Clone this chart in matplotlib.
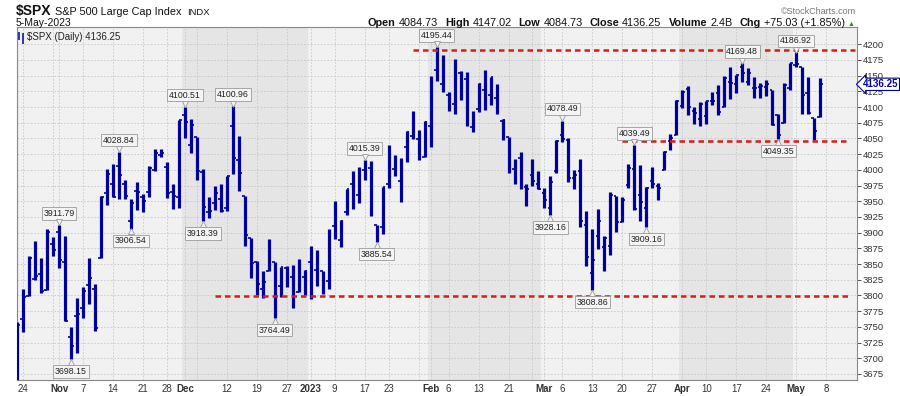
import numpy as np
import pandas as pd
import matplotlib
matplotlib.use("Agg")
import matplotlib.pyplot as plt
from matplotlib.transforms import offset_copy, blended_transform_factory

plt.rcParams['font.family'] = ['Liberation Sans', 'DejaVu Sans']

# daily S&P 500 bars, 21-Oct-2022 .. 5-May-2023
holidays = ['2022-11-24', '2022-12-26', '2023-01-02', '2023-01-16', '2023-02-20', '2023-04-07']
dates = [d for d in pd.bdate_range('2022-10-21', '2023-05-05') if d.strftime('%Y-%m-%d') not in holidays]

opens = [3657.10, 3762.01, 3799.44, 3825.97, 3834.69, 3808.26, 3881.85,
         3901.79, 3852.90, 3733.25, 3766.98, 3780.71, 3817.02, 3810.94, 3859.89, 3963.72, 3977.97, 4006.41,
         3976.82, 3919.26, 3966.39, 3956.23, 3965.51, 4000.30, 4023.34, 4005.36, 3964.19, 3957.18,
         4087.14, 4040.17, 4052.02, 3996.63, 3933.28, 3947.79, 3954.17, 3939.29, 4069.38, 4015.54, 3958.37,
         3890.91, 3853.79, 3810.47, 3839.49, 3853.26, 3815.11, 3843.34, 3829.56, 3805.45, 3829.06,
         3853.29, 3840.36, 3839.74, 3823.37, 3910.82, 3888.57, 3932.35, 3977.57, 3960.60, 3999.28, 4002.25,
         3911.84, 3909.04, 3978.14, 4001.74, 3982.71, 4036.08, 4053.72, 4049.27, 4020.85,
         4070.07, 4158.68, 4136.69, 4119.57, 4105.35, 4153.47, 4144.25, 4068.92, 4096.62, 4126.70, 4119.50,
         4114.75, 4077.39, 4052.35, 4001.83, 4018.60, 3973.24, 3992.36, 3977.19,
         3963.34, 3938.68, 3998.02, 4055.15, 4048.26, 3987.55, 3998.66, 3912.77, 3835.12, 3894.01, 3876.74,
         3878.93, 3958.69, 3917.47, 3975.89, 4002.04, 3959.21, 3939.21, 3982.93, 3974.13, 3999.53, 4046.74,
         4056.18,
         4102.20, 4128.03, 4094.50, 4081.15, 4085.20, 4110.29, 4121.72, 4100.04, 4140.11, 4137.17, 4164.26,
         4139.33, 4130.48, 4132.14, 4132.07, 4126.43, 4087.78, 4075.29, 4129.63,
         4166.79, 4164.10, 4122.25, 4082.61, 4084.73]
highs = [3757.89, 3810.74, 3862.85, 3886.15, 3859.95, 3905.42, 3893.73,
         3911.79, 3894.44, 3750.59, 3796.34, 3813.95, 3859.40, 3818.20, 3958.33, 4001.48, 4008.97, 4028.84,
         3983.09, 3954.33, 3979.89, 3962.00, 4005.88, 4033.78, 4034.02, 4012.27, 3976.77, 4080.11,
         4100.51, 4080.48, 4052.45, 4001.51, 3957.57, 3974.19, 3977.02, 3990.71, 4100.96, 4053.76, 3958.37,
         3890.91, 3854.86, 3838.24, 3889.82, 3853.26, 3845.80, 3846.65, 3848.32, 3858.19, 3839.85,
         3878.46, 3873.16, 3839.74, 3906.19, 3950.57, 3919.83, 3970.07, 3997.76, 4003.95, 4015.39, 4014.16,
         3911.84, 3972.96, 4039.31, 4023.92, 4019.55, 4061.57, 4094.21, 4063.85, 4077.16,
         4148.95, 4195.44, 4182.36, 4124.63, 4176.54, 4156.85, 4156.23, 4094.36, 4138.90, 4159.77, 4148.11,
         4136.54, 4081.51, 4052.35, 4017.37, 4028.30, 3978.25, 4018.05, 3997.50,
         3971.73, 3990.84, 4048.29, 4078.49, 4050.00, 4000.41, 4017.81, 3934.05, 3905.05, 3937.29, 3894.26,
         3964.46, 3958.91, 3956.62, 4009.08, 4039.49, 4007.66, 3972.74, 4003.83, 3979.20, 4030.59, 4057.85,
         4110.75,
         4127.66, 4133.13, 4099.69, 4107.32, 4109.50, 4124.26, 4134.37, 4150.26, 4163.19, 4151.72, 4169.48,
         4162.57, 4148.57, 4138.02, 4142.41, 4126.43, 4089.67, 4138.24, 4170.06,
         4186.92, 4164.10, 4148.30, 4082.61, 4147.02]
lows = [3647.42, 3741.65, 3799.44, 3824.07, 3803.79, 3808.26, 3863.18,
        3843.80, 3758.68, 3698.15, 3708.84, 3764.70, 3786.28, 3744.22, 3859.89, 3944.82, 3956.40, 3953.17,
        3954.34, 3906.54, 3935.98, 3933.34, 3956.88, 3998.66, 4020.76, 3955.77, 3937.65, 3938.58,
        4050.87, 4026.63, 3984.49, 3918.39, 3922.68, 3935.83, 3933.04, 3935.30, 3993.03, 3965.65, 3879.45,
        3827.91, 3800.04, 3795.62, 3839.49, 3764.49, 3797.01, 3813.22, 3780.78, 3805.45, 3800.34,
        3794.33, 3815.77, 3802.42, 3809.56, 3890.42, 3877.29, 3928.54, 3937.56, 3947.67, 3984.57, 3926.59,
        3885.54, 3897.86, 3971.64, 3989.79, 3949.06, 4013.29, 4048.70, 4015.55, 4020.44,
        4037.20, 4141.88, 4123.36, 4093.38, 4088.39, 4111.67, 4069.67, 4060.79, 4092.67, 4095.01, 4103.98,
        4089.49, 4047.95, 3995.19, 3976.90, 3969.19, 3943.08, 3973.55, 3968.98,
        3939.05, 3928.16, 3995.17, 4044.61, 3980.31, 3969.76, 3908.70, 3846.32, 3808.86, 3873.63, 3838.24,
        3864.11, 3901.27, 3916.89, 3971.19, 3936.17, 3919.05, 3909.16, 3970.47, 3951.53, 3999.53, 4032.10,
        4056.18,
        4098.79, 4086.87, 4072.56, 4069.84, 4072.55, 4102.61, 4086.94, 4099.40, 4113.20, 4123.18, 4140.36,
        4134.49, 4114.57, 4113.86, 4117.77, 4071.38, 4049.35, 4075.29, 4127.18,
        4164.12, 4089.72, 4088.86, 4048.28, 4084.73]
closes = [3752.75, 3797.34, 3859.11, 3830.60, 3807.30, 3901.06, 3871.98,
          3856.10, 3759.69, 3719.89, 3770.55, 3806.80, 3828.11, 3748.57, 3956.37, 3992.93, 3957.25, 3991.73,
          3958.79, 3946.56, 3965.34, 3949.94, 4003.58, 4027.26, 4026.12, 3963.94, 3957.63, 4080.11,
          4076.57, 4071.70, 3998.84, 3941.26, 3933.92, 3963.51, 3934.38, 3990.56, 4019.65, 3995.32, 3895.75,
          3852.36, 3817.66, 3821.62, 3878.44, 3822.39, 3844.82, 3829.25, 3783.22, 3849.28, 3839.50,
          3824.14, 3852.97, 3808.10, 3895.08, 3892.09, 3919.25, 3969.61, 3983.17, 3999.09, 3990.97, 3928.86,
          3898.85, 3972.61, 4019.81, 4016.95, 4016.22, 4060.43, 4070.56, 4017.77, 4076.60,
          4119.21, 4179.76, 4136.48, 4111.08, 4164.00, 4117.86, 4081.50, 4090.46, 4137.29, 4136.13, 4147.60,
          4090.41, 4079.09, 3997.34, 3991.05, 4012.32, 3970.04, 3982.24, 3970.15,
          3951.39, 3981.35, 4045.64, 4048.42, 3986.37, 3992.01, 3918.32, 3861.59, 3855.76, 3919.29, 3891.93,
          3960.28, 3916.64, 3951.57, 4002.87, 3936.97, 3948.72, 3970.99, 3977.53, 3971.27, 4027.81, 4050.83,
          4109.31,
          4124.51, 4100.60, 4090.38, 4105.02, 4109.11, 4108.94, 4091.95, 4146.22, 4137.64, 4151.32, 4154.87,
          4154.52, 4129.79, 4133.52, 4137.04, 4071.63, 4055.99, 4135.35, 4169.48,
          4167.87, 4119.58, 4090.75, 4061.22, 4136.25]

# labelled highs / lows
note_dates = ['2022-11-01', '2022-11-03', '2022-11-15', '2022-11-17', '2022-12-01', '2022-12-06',
              '2022-12-13', '2022-12-22', '2023-01-17', '2023-01-19', '2023-02-02', '2023-03-02',
              '2023-03-06', '2023-03-13', '2023-03-22', '2023-03-24', '2023-04-18', '2023-04-26', '2023-05-01']
note_kind = ['H', 'L', 'H', 'L', 'H', 'L', 'H', 'L', 'H', 'L', 'H', 'L', 'H', 'L', 'H', 'L', 'H', 'L', 'H']

# support / resistance lines: (level, from date, to index)
lvl_values = [4191.0, 4046.5, 3799.5]
lvl_start = ['2023-01-27', '2023-03-20', '2022-12-08']
lvl_end = [139.8, 138.7, 138.7]

tick_dates = ['2022-10-24', '2022-11-01', '2022-11-07', '2022-11-14', '2022-11-21', '2022-11-28',
              '2022-12-01', '2022-12-12', '2022-12-19', '2022-12-27', '2023-01-03', '2023-01-09',
              '2023-01-17', '2023-01-23', '2023-02-01', '2023-02-06', '2023-02-13', '2023-02-21',
              '2023-03-01', '2023-03-06', '2023-03-13', '2023-03-20', '2023-03-27', '2023-04-03',
              '2023-04-10', '2023-04-17', '2023-04-24', '2023-05-01', '2023-05-08']
tick_labels = ['24', 'Nov', '7', '14', '21', '28', 'Dec', '12', '19', '27', '2023', '9', '17', '23',
               'Feb', '6', '13', '21', 'Mar', '6', '13', '20', '27', 'Apr', '10', '17', '24', 'May', '8']
extra_grid = ['2022-10-31', '2022-12-05', '2023-01-30', '2023-02-27']
dark_months = [('2022-12-01', '2023-01-03'), ('2023-02-01', '2023-03-01'), ('2023-04-03', '2023-05-01')]


def idx(d):
    return int(np.busday_count('2022-10-21', d, holidays=holidays))


x = np.arange(len(dates))
navy = '#00009c'

fig = plt.figure(figsize=(9, 3.96), dpi=100)
ax = fig.add_axes([16.5 / 900, 1 - 380 / 396, (857 - 16.5) / 900, 353 / 396])
ax.set_facecolor('#f1f1f1')
ax.set_xlim(-0.1, 140.15)
ax.set_ylim(3665.4, 4227.5)

for a, b in dark_months:
    ax.axvspan(idx(a) - 0.5, idx(b) - 0.5, color='#e5e5e5', zorder=0, lw=0)

# grid
for d in tick_dates + extra_grid:
    ax.axvline(idx(d), color='#c8c8c8', lw=0.6, ls=(0, (2, 2)), zorder=1)
yt = np.arange(3675, 4201, 25)
for v in yt:
    ax.axhline(v, color='#c8c8c8', lw=0.6, ls=(0, (2, 2)), zorder=1)

# OHLC bars
ax.vlines(x, lows, highs, color=navy, lw=2.3, zorder=3)
ax.hlines(opens, x - 0.45, x, color=navy, lw=1.2, zorder=3)
ax.hlines(closes, x, x + 0.45, color=navy, lw=1.2, zorder=3)

# red dashed levels
for v, s, e in zip(lvl_values, lvl_start, lvl_end):
    ax.hlines(v, idx(s), e, color='#d91e18', lw=1.8, ls=(0, (2.2, 1.6)), zorder=4)

# annotations
up = offset_copy(ax.transData, fig=fig, y=2.0, units='points')
dn = offset_copy(ax.transData, fig=fig, y=-2.0, units='points')
for d, k in zip(note_dates, note_kind):
    i = idx(d)
    v = highs[i] if k == 'H' else lows[i]
    off = 5.2 if k == 'H' else -5.6
    ax.annotate(f'{v:.2f}', xy=(i, v), xytext=(0, off), textcoords='offset points',
                ha='center', va='bottom' if k == 'H' else 'top', fontsize=6.3, color='#222222',
                bbox=dict(boxstyle='square,pad=0.2', fc='#f4f4f4', ec='#9a9a9a', lw=0.6), zorder=6)
    ax.plot(i, v, marker='v' if k == 'H' else '^', ms=4, mfc='#f4f4f4', mec='#9a9a9a', mew=0.6,
            transform=up if k == 'H' else dn, zorder=7, clip_on=False)

# axes styling
for s in ax.spines.values():
    s.set_color('#888888')
    s.set_linewidth(0.8)
ax.yaxis.tick_right()
ax.set_yticks(yt)
ax.set_yticklabels([str(v) for v in yt])
ax.tick_params(axis='y', length=3, width=0.6, pad=1, labelsize=6.8, colors='#333333')
ax.set_xticks([idx(d) for d in tick_dates])
ax.set_xticklabels(tick_labels)
ax.tick_params(axis='x', length=0, pad=3, labelsize=7, colors='#333333')
for lab in ax.get_xticklabels():
    if not lab.get_text().isdigit() or lab.get_text() == '2023':
        lab.set_fontweight('bold')

# last price tag
tr = blended_transform_factory(ax.transAxes, ax.transData)
ax.text(1.007, closes[-1], f'{closes[-1]:.2f}', transform=tr, ha='left', va='center', fontsize=7,
        fontweight='bold', color=navy, clip_on=False, zorder=8,
        bbox=dict(boxstyle='larrow,pad=0.12', fc='white', ec=navy, lw=0.8))

# in-chart legend
ax.text(0.012, 0.985, f'$SPX (Daily) {closes[-1]:.2f}', transform=ax.transAxes, ha='left', va='top',
        fontsize=7, color='#222222', zorder=8)
ax.vlines([0.0035, 0.0075], [0.962, 0.952], [0.987, 0.982], transform=ax.transAxes, color=navy, lw=1.1, zorder=8)

# header
r = fig.canvas.get_renderer()
t = fig.text(16 / 900, 1 - 15 / 396, '$SPX', fontsize=10, fontweight='bold', color='#111111', va='baseline')
hx = 16 / 900 + t.get_window_extent(r).width / 900 + 4 / 900
t = fig.text(hx, 1 - 15 / 396, 'S&P 500 Large Cap Index', fontsize=7.8, color='#111111', va='baseline')
hx += t.get_window_extent(r).width / 900 + 5 / 900
fig.text(hx, 1 - 15 / 396, 'INDX', fontsize=6.8, color='#111111', va='baseline')
fig.text(16 / 900, 1 - 26 / 396, '5-May-2023', fontsize=7.5, color='#111111', va='baseline')
fig.text(856 / 900, 1 - 14 / 396, '\u00a9StockCharts.com', fontsize=6.5, color='#777777', ha='right', va='baseline')

hdr = [('Open', '4084.73'), ('High', '4147.02'), ('Low', '4084.73'), ('Close', '4136.25'),
       ('Volume', '2.4B'), ('Chg', '+75.03 (+1.85%)')]
xs = 368 / 900
for lbl, val in hdr:
    t = fig.text(xs, 1 - 26 / 396, lbl, fontsize=7.8, fontweight='bold', color='#111111', va='baseline')
    xs += t.get_window_extent(r).width / 900 + 3 / 900
    t = fig.text(xs, 1 - 26 / 396, val, fontsize=7.8, color='#111111', va='baseline')
    xs += t.get_window_extent(r).width / 900 + 7 / 900
fig.text(xs - 4 / 900, 1 - 26 / 396, '\u25b2', fontsize=5, color='#1a8a1a', va='baseline')

fig.savefig('out.png', dpi=100, facecolor='white')
